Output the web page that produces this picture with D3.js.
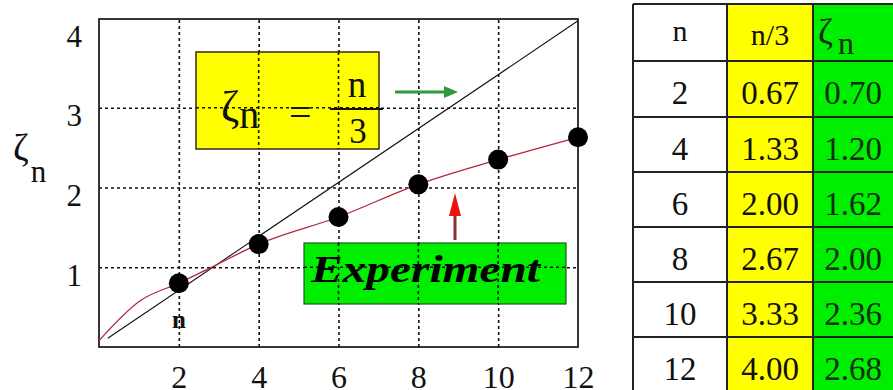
<!DOCTYPE html>
<html>
<head>
<meta charset="utf-8">
<script src="https://cdn.jsdelivr.net/npm/d3@7"></script>
<style>
html,body{margin:0;padding:0;background:#fff;}
svg{display:block;}
text{font-family:"Liberation Serif","Times New Roman","DejaVu Serif",serif;}
</style>
</head>
<body>
<svg id="chart" width="893" height="390"></svg>
<script>
// ---- data ----
const xTicks = [2, 4, 6, 8, 10, 12];
const yTicks = [1, 2, 3, 4];
const gridX = [2, 4, 6, 8, 10];
const gridY = [1, 2, 3];
const dotN = [2, 4, 6, 8, 10, 12];
const dotZeta = [0.80, 1.29, 1.63, 2.04, 2.35, 2.63];
const curveN = [0, 1.03, 2, 2.78, 4, 6, 8, 10, 12];
const curveZeta = [0.08, 0.58, 0.80, 0.99, 1.29, 1.63, 2.04, 2.35, 2.63];
const diagN = [0.22, 12];
const diagZeta = [0.11, 4.09];
const tableHeader = ["n", "n/3", "ζn"];
const tableN = ["2", "4", "6", "8", "10", "12"];
const tableNOver3 = ["0.67", "1.33", "2.00", "2.67", "3.33", "4.00"];
const tableZeta = ["0.70", "1.20", "1.62", "2.00", "2.36", "2.68"];

const svg = d3.select("#chart");
const x = d3.scaleLinear().domain([0, 12]).range([99, 578]);
const y = d3.scaleLinear().domain([0, 4]).range([347, 28]);
const plotTop = 19;
const dotted = sel => sel.attr("stroke", "#111").attr("stroke-width", 1.6).attr("stroke-dasharray", "3,3");

// grid lines (dotted) via axes
svg.append("g")
  .attr("transform", `translate(0,${y(0)})`)
  .call(d3.axisBottom(x).tickValues(gridX).tickSize(-(y(0) - plotTop)).tickFormat(""))
  .call(g => g.select(".domain").remove())
  .call(g => g.selectAll("line").call(dotted));
svg.append("g")
  .attr("transform", `translate(${x(0)},0)`)
  .call(d3.axisLeft(y).tickValues(gridY).tickSize(-(x(12) - x(0))).tickFormat(""))
  .call(g => g.select(".domain").remove())
  .call(g => g.selectAll("line").call(dotted));

// frame
svg.append("rect")
  .attr("x", x(0)).attr("y", plotTop)
  .attr("width", x(12) - x(0)).attr("height", y(0) - plotTop)
  .attr("fill", "none").attr("stroke", "#222").attr("stroke-width", 1.8);

// axis labels
const xAxis = svg.append("g")
  .attr("transform", `translate(0,${y(0)})`)
  .call(d3.axisBottom(x).tickValues(xTicks).tickSize(0).tickFormat(d3.format("d")));
xAxis.select(".domain").remove();
xAxis.selectAll("text")
  .attr("y", 41).attr("dy", 0)
  .style("font-size", "32px").attr("fill", "#111");

const yAxis = svg.append("g")
  .attr("transform", `translate(82,0)`)
  .call(d3.axisLeft(y).tickValues(yTicks).tickSize(0).tickFormat(d3.format("d")));
yAxis.select(".domain").remove();
yAxis.selectAll("text")
  .attr("x", 0).attr("dy", 18)
  .style("font-size", "31px").attr("fill", "#111");

// y title
const yt = svg.append("text").attr("x", 13).attr("y", 160).attr("fill", "#111");
yt.append("tspan").attr("font-size", 38).text("ζ");
yt.append("tspan").attr("font-size", 31).attr("dy", 22).attr("dx", 2).text("n");

// diagonal n/3 line
svg.append("path")
  .datum(diagN.map((n, i) => [n, diagZeta[i]]))
  .attr("d", d3.line().x(d => x(d[0])).y(d => y(d[1])))
  .attr("fill", "none").attr("stroke", "#111").attr("stroke-width", 1.1);

// experimental curve
svg.append("path")
  .datum(curveN.map((n, i) => [n, curveZeta[i]]))
  .attr("d", d3.line().curve(d3.curveMonotoneX).x(d => x(d[0])).y(d => y(d[1])))
  .attr("fill", "none").attr("stroke", "#b5283c").attr("stroke-width", 1.3);

// dots
svg.selectAll("circle.dot")
  .data(dotN.map((n, i) => [n, dotZeta[i]]))
  .join("circle").attr("class", "dot")
  .attr("cx", d => x(d[0])).attr("cy", d => y(d[1])).attr("r", 10)
  .attr("fill", "#000");

// "n" label under first dot
svg.append("text").attr("x", 179).attr("y", 328).attr("text-anchor", "middle")
  .attr("font-size", 25).attr("font-weight", "bold").attr("fill", "#111").text("n");

// yellow formula box
svg.append("rect").attr("x", 196).attr("y", 52).attr("width", 183).attr("height", 97)
  .attr("fill", "#ffff00").attr("stroke", "#3a2a10").attr("stroke-width", 1.5);
[4, 6].forEach(n => {
  svg.append("line").attr("x1", x(n)).attr("x2", x(n)).attr("y1", 52).attr("y2", 149).call(dotted);
});
svg.append("line").attr("x1", 196).attr("x2", 379).attr("y1", y(3)).attr("y2", y(3)).call(dotted);
const ft = svg.append("text").attr("x", 221).attr("y", 121).attr("fill", "#111");
ft.append("tspan").attr("font-size", 44).text("ζ");
ft.append("tspan").attr("font-size", 40).attr("dy", 7).text("n");
svg.append("text").attr("x", 289).attr("y", 126).attr("font-size", 40).attr("fill", "#111").text("=");
svg.append("text").attr("x", 357).attr("y", 97).attr("text-anchor", "middle").attr("font-size", 37).attr("fill", "#111").text("n");
svg.append("line").attr("x1", 330).attr("x2", 383).attr("y1", 109).attr("y2", 109).attr("stroke", "#111").attr("stroke-width", 2);
svg.append("text").attr("x", 358).attr("y", 143).attr("text-anchor", "middle").attr("font-size", 35).attr("fill", "#111").text("3");

// green arrow
svg.append("line").attr("x1", 395).attr("x2", 448).attr("y1", 92).attr("y2", 92)
  .attr("stroke", "#2e9a3c").attr("stroke-width", 3);
svg.append("polygon").attr("points", "444,86 458,92 444,98").attr("fill", "#2e9a3c");

// green Experiment box
svg.append("rect").attr("x", 304).attr("y", 243).attr("width", 262).attr("height", 61)
  .attr("fill", "#00ee00").attr("stroke", "#1a5a1a").attr("stroke-width", 1.2);
svg.append("line").attr("x1", 304).attr("x2", 566).attr("y1", y(1)).attr("y2", y(1)).call(dotted);
[6, 8, 10].forEach(n => {
  svg.append("line").attr("x1", x(n)).attr("x2", x(n)).attr("y1", 243).attr("y2", 304).call(dotted);
});
svg.append("text").attr("x", 311).attr("y", 282).attr("font-size", 38)
  .attr("font-weight", "bold").attr("font-style", "italic")
  .attr("textLength", 229).attr("lengthAdjust", "spacingAndGlyphs")
  .attr("fill", "#000").text("Experiment");

// red arrow
svg.append("line").attr("x1", 455).attr("x2", 455).attr("y1", 240).attr("y2", 212)
  .attr("stroke", "#8a3030").attr("stroke-width", 3);
svg.append("polygon").attr("points", "455,193 461,216 449,216").attr("fill", "#ee1111");

// ---- table ----
const colX = [633, 727, 813, 900];
const rowY = [4, 61, 117, 172, 227, 282, 337, 392];
const colFill = ["#ffffff", "#ffff00", "#00ee00"];
const colText = ["#111", "#111", "#0e2e0e"];
const tbl = svg.append("g");
colFill.forEach((f, c) => {
  tbl.append("rect").attr("x", colX[c]).attr("y", rowY[0])
    .attr("width", colX[c + 1] - colX[c]).attr("height", rowY[7] - rowY[0]).attr("fill", f);
});
rowY.forEach(yy => {
  tbl.append("line").attr("x1", colX[0]).attr("x2", colX[3]).attr("y1", yy).attr("y2", yy)
    .attr("stroke", "#222").attr("stroke-width", 2);
});
colX.slice(0, 3).forEach(xx => {
  tbl.append("line").attr("x1", xx).attr("x2", xx).attr("y1", rowY[0]).attr("y2", rowY[7])
    .attr("stroke", "#222").attr("stroke-width", 2);
});
const cx = c => (colX[c] + (c === 2 ? 893 : colX[c + 1])) / 2;
// header
tbl.append("text").attr("x", cx(0)).attr("y", 41).attr("text-anchor", "middle").attr("font-size", 30).attr("fill", "#111").text(tableHeader[0]);
tbl.append("text").attr("x", cx(1)).attr("y", 45).attr("text-anchor", "middle").attr("font-size", 30).attr("fill", "#111").text(tableHeader[1]);
const zh = tbl.append("text").attr("x", 818).attr("y", 44).attr("fill", colText[2]);
zh.append("tspan").attr("font-size", 36).text(tableHeader[2].charAt(0));
zh.append("tspan").attr("font-size", 32).attr("dy", 10).attr("dx", 5).text(tableHeader[2].charAt(1));
// body
[tableN, tableNOver3, tableZeta].forEach((col, c) => {
  tbl.selectAll(null).data(col).join("text")
    .attr("x", cx(c)).attr("y", (d, i) => rowY[i + 1] + 43)
    .attr("text-anchor", "middle").attr("font-size", 33).attr("fill", colText[c])
    .text(d => d);
});
</script>
</body>
</html>
